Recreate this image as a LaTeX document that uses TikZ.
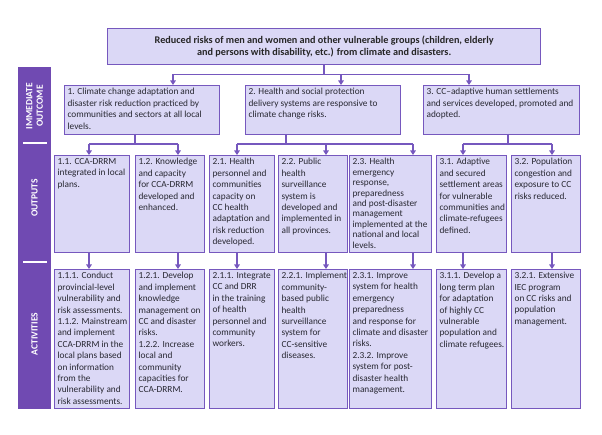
\documentclass[tikz,border=0pt]{standalone}
\usepackage{fontspec}
\setmainfont{Carlito}
\usetikzlibrary{arrows.meta}
\definecolor{boxfill}{RGB}{219,216,246}
\definecolor{boxdraw}{RGB}{118,88,190}
\definecolor{barfill}{RGB}{112,74,178}
\definecolor{txtcol}{RGB}{40,40,50}
\tikzset{
 box/.style={draw=boxdraw, fill=boxfill, line width=1.3pt, inner sep=0pt, anchor=north west},
 txt/.style={anchor=north west, inner sep=0pt, align=left, font=\fontsize{9.3}{11.4}\selectfont, text=txtcol},
 tighttxt/.style={txt, font=\fontsize{9.3}{10.4}\selectfont},
 titletxt/.style={align=center, inner sep=0pt, font=\fontsize{10.2}{12}\selectfont\bfseries, text=black!85},
 conn/.style={draw=boxdraw, line width=1.4pt},
 arr/.style={conn, -{Triangle[width=5.5pt,length=4.5pt]}},
 barlabel/.style={text=white, font=\fontsize{9.5}{10.5}\selectfont\bfseries, rotate=90, align=center, inner sep=0pt},
 sepline/.style={draw=white, line width=1.5pt}
}
\newcommand\mybox[7][txt]{%
  \node[box, minimum width={(#5-#3)*1pt}, minimum height={(#6-#4)*1pt}] (#2) at (#3,#4) {};
  \node[#1] (#2t) at ([xshift=3.4pt,yshift=-3.2pt]#2.north west) {#7};}
\begin{document}
\begin{tikzpicture}[x=1pt,y=-1pt]
\useasboundingbox (0,0) rectangle (602,435);

% side bar
\node[fill=barfill, inner sep=0pt, anchor=north west, minimum width=33pt, minimum height=342pt] (bar) at (18,67) {};
\node[barlabel] (lblio) at (34.5,106) {IMMEDIATE\\OUTCOME};
\node[barlabel] (lblout) at (34.5,198) {OUTPUTS};
\node[barlabel] (lblact) at (34.5,334) {ACTIVITIES};
\draw[sepline] (23,143) -- (47,143);
\draw[sepline] (23,262) -- (47,262);

% goal
\node[box, minimum width=433pt, minimum height=36pt] (top) at (107,28) {};
\node[titletxt] (topt) at (top.center) {Reduced risks of men and women and other vulnerable groups (children, elderly\\and persons with disability, etc.) from climate and disasters.};

% immediate outcomes
\mybox{o1}{64}{85}{219}{134}{1. Climate change adaptation and\\disaster risk reduction practiced by\\communities and sectors at all local\\levels.}
\mybox{o2}{245}{85}{400}{134}{2. Health and social protection\\delivery systems are responsive to\\climate change risks.}
\mybox{o3}{423}{85}{579}{134}{3. CC–adaptive human settlements\\and services developed, promoted and\\adopted.}

% outputs
\mybox{p11}{54}{155}{129}{252}{1.1. CCA-DRRM\\integrated in local\\plans.}
\mybox{p12}{135}{155}{204}{252}{1.2. Knowledge\\and capacity\\for CCA-DRRM\\developed and\\enhanced.}
\mybox{p21}{209}{155}{274}{252}{2.1. Health\\personnel and\\communities\\capacity on\\CC health\\adaptation and\\risk reduction\\developed.}
\mybox{p22}{278}{155}{347}{252}{2.2. Public\\health\\surveillance\\system is\\developed and\\implemented in\\all provinces.}
\mybox[tighttxt]{p23}{349}{155}{431}{252}{2.3. Health\\emergency\\response,\\preparedness\\and post-disaster\\management\\implemented at the\\national and local\\levels.}
\mybox{p31}{436}{155}{506}{252}{3.1. Adaptive\\and secured\\settlement areas\\for vulnerable\\communities and\\climate-refugees\\defined.}
\mybox{p32}{511}{155}{580}{252}{3.2. Population\\congestion and\\exposure to CC\\risks reduced.}

% activities
\mybox{a11}{54}{269}{129}{408}{1.1.1. Conduct\\provincial-level\\vulnerability and\\risk assessments.\\1.1.2. Mainstream\\and implement\\CCA-DRRM in the\\local plans based\\on information\\from the\\vulnerability and\\risk assessments.}
\mybox{a12}{135}{269}{204}{408}{1.2.1. Develop\\and implement\\knowledge\\management on\\CC and disaster\\risks.\\1.2.2. Increase\\local and\\community\\capacities for\\CCA-DRRM.}
\mybox{a21}{209}{269}{274}{408}{2.1.1. Integrate\\CC and DRR\\in the training\\of health\\personnel and\\community\\workers.}
\mybox{a22}{278}{269}{347}{408}{2.2.1. Implement\\community-\\based public\\health\\surveillance\\system for\\CC-sensitive\\diseases.}
\mybox{a23}{349}{269}{431}{408}{2.3.1. Improve\\system for health\\emergency\\preparedness\\and response for\\climate and disaster\\risks.\\2.3.2. Improve\\system for post-\\disaster health\\management.}
\mybox{a31}{436}{269}{506}{408}{3.1.1. Develop a\\long term plan\\for adaptation\\of highly CC\\vulnerable\\population and\\climate refugees.}
\mybox{a32}{511}{269}{580}{408}{3.2.1. Extensive\\IEC program\\on CC risks and\\population\\management.}

% connector entry points
\coordinate (o1in) at (173,85);
\coordinate (o2in) at (341,85);
\coordinate (o3in) at (469,85);
\coordinate (o1out) at (135,134);
\coordinate (o2out) at (286,134);
\coordinate (o3out) at (508,134);
\coordinate (p11in) at (89,155);
\coordinate (p12in) at (178,155);
\coordinate (p21in) at (237,155);
\coordinate (p22in) at (326,155);
\coordinate (p23in) at (413,155);
\coordinate (p31in) at (463,155);
\coordinate (p32in) at (552,155);

% goal -> outcomes
\draw[conn] (top.south) -- ++(0,9) coordinate (h0);
\draw[conn] (h0 -| o1in) -- (h0 -| o3in);
\foreach \t in {o1in,o2in,o3in} \draw[arr] (h0 -| \t) -- (\t);

% outcomes -> outputs
\draw[conn] (o1out) -- ++(0,10) coordinate (h1);
\draw[conn] (h1 -| p11in) -- (h1 -| p12in);
\foreach \t in {p11in,p12in} \draw[arr] (h1 -| \t) -- (\t);
\draw[conn] (o2out) -- ++(0,10) coordinate (h2);
\draw[conn] (h2 -| p21in) -- (h2 -| p23in);
\foreach \t in {p21in,p22in,p23in} \draw[arr] (h2 -| \t) -- (\t);
\draw[conn] (o3out) -- ++(0,10) coordinate (h3);
\draw[conn] (h3 -| p31in) -- (h3 -| p32in);
\foreach \t in {p31in,p32in} \draw[arr] (h3 -| \t) -- (\t);

% outputs -> activities
\foreach \p/\a in {p11/a11,p12/a12,p21/a21,p22/a22,p23/a23,p31/a31,p32/a32}
  \draw[arr] (\p.south -| \p in) -- (\a.north -| \p in);
\end{tikzpicture}
\end{document}
